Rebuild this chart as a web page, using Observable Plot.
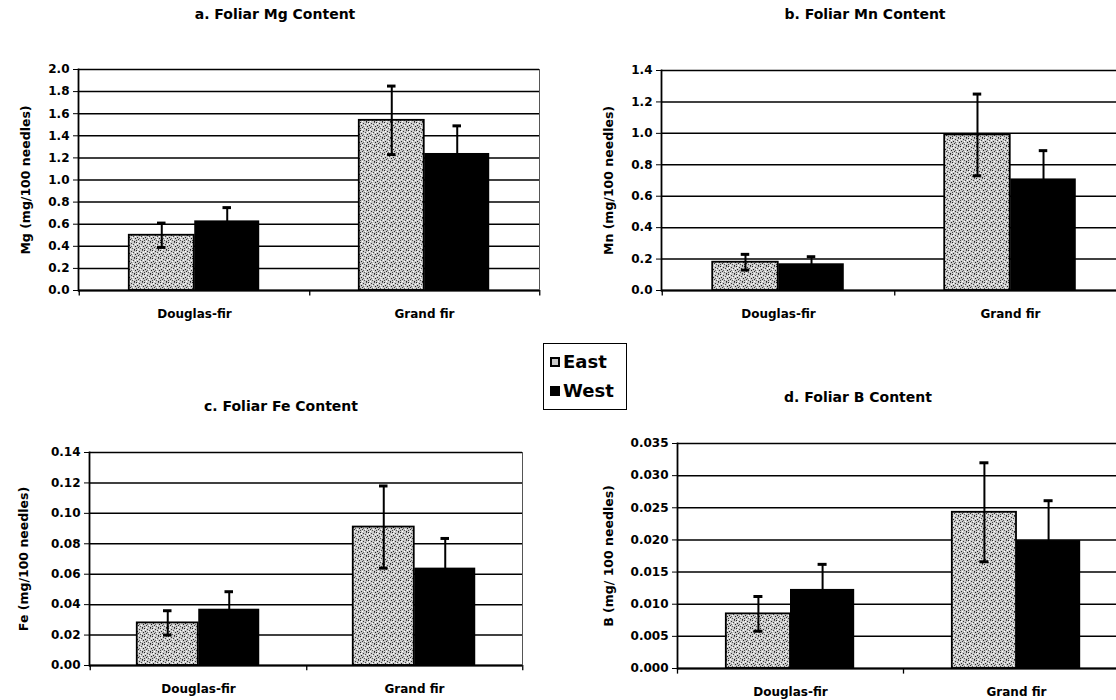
<!DOCTYPE html>
<html>
<head>
<meta charset="utf-8">
<script src="https://cdn.jsdelivr.net/npm/d3@7"></script>
<script src="https://cdn.jsdelivr.net/npm/@observablehq/plot@0.6"></script>
<style>
  html, body { margin: 0; padding: 0; background: #fff; overflow: hidden; }
  #root { position: relative; width: 1116px; height: 700px; overflow: hidden; font-family: "DejaVu Sans", sans-serif; font-weight: bold; color: #000; }
  .panel { position: absolute; }
  .title { position: absolute; font-size: 14px; white-space: nowrap; transform: translateX(-50%); }
  #legend { position: absolute; left: 543px; top: 343px; width: 82px; height: 65px; border: 1.5px solid #000; font-size: 18px; }
  #legend .row { position: absolute; left: 6px; display: flex; align-items: center; }
  #legend .sw { width: 10px; height: 10px; margin-right: 3px; box-sizing: border-box; }
</style>
</head>
<body>
<div id="root">
  <svg width="0" height="0" style="position:absolute">
    <defs>
      <pattern id="stipple" width="8" height="8" patternUnits="userSpaceOnUse">
        <rect width="8" height="8" fill="#cacaca"></rect>
        <rect x="0" y="0" width="1" height="1" fill="#222"></rect>
        <rect x="3" y="1" width="1" height="1" fill="#333"></rect>
        <rect x="6" y="0" width="1" height="1" fill="#555"></rect>
        <rect x="1" y="3" width="1" height="1" fill="#222"></rect>
        <rect x="5" y="2" width="1" height="1" fill="#444"></rect>
        <rect x="2" y="5" width="1" height="1" fill="#333"></rect>
        <rect x="7" y="4" width="1" height="1" fill="#222"></rect>
        <rect x="4" y="6" width="1" height="1" fill="#555"></rect>
        <rect x="0" y="6" width="1" height="1" fill="#444"></rect>
        <rect x="6" y="7" width="1" height="1" fill="#222"></rect>
        <rect x="3" y="4" width="1" height="1" fill="#666"></rect>
        <rect x="1" y="1" width="1" height="1" fill="#fff"></rect>
        <rect x="5" y="5" width="1" height="1" fill="#fff"></rect>
        <rect x="2" y="7" width="1" height="1" fill="#fff"></rect>
        <rect x="7" y="2" width="1" height="1" fill="#fff"></rect>
        <rect x="4" y="3" width="1" height="1" fill="#fff"></rect>
      </pattern>
    </defs>
  </svg>
  <div class="title" style="left:275px; top:6px;">a. Foliar Mg Content</div>
  <div class="title" style="left:865px; top:6px;">b. Foliar Mn Content</div>
  <div class="title" style="left:281px; top:398px;">c. Foliar Fe Content</div>
  <div class="title" style="left:858px; top:389px;">d. Foliar B Content</div>
  <div id="legend">
    <div class="row" style="top:7px;"><div class="sw" style="background:#cacaca; border:2px solid #000;"></div><span>East</span></div>
    <div class="row" style="top:36px;"><div class="sw" style="background:#000;"></div><span>West</span></div>
  </div>
</div>
<script>
// ---- data ----
const species = ["Douglas-fir", "Grand fir"];

const mgEast = [0.50, 1.54];
const mgEastErr = [0.11, 0.31];
const mgWest = [0.63, 1.24];
const mgWestErr = [0.12, 0.25];
const mgTicks = [0, 0.2, 0.4, 0.6, 0.8, 1.0, 1.2, 1.4, 1.6, 1.8, 2.0];

const mnEast = [0.18, 0.99];
const mnEastErr = [0.05, 0.26];
const mnWest = [0.17, 0.71];
const mnWestErr = [0.045, 0.18];
const mnTicks = [0, 0.2, 0.4, 0.6, 0.8, 1.0, 1.2, 1.4];

const feEast = [0.028, 0.091];
const feEastErr = [0.008, 0.027];
const feWest = [0.037, 0.064];
const feWestErr = [0.0115, 0.0195];
const feTicks = [0, 0.02, 0.04, 0.06, 0.08, 0.10, 0.12, 0.14];

const bEast = [0.0085, 0.0243];
const bEastErr = [0.0027, 0.0077];
const bWest = [0.0123, 0.0199];
const bWestErr = [0.0039, 0.0062];
const bTicks = [0, 0.005, 0.010, 0.015, 0.020, 0.025, 0.030, 0.035];

// ---- drawing ----
function panel(cfg) {
  const {left, top, width, height, ml, mr, mt, mb, ticks, digits, ylabel, labelOffset, east, eastErr, west, westErr} = cfg;
  const rows = species.map((s, i) => ({species: s, east: east[i], eastErr: eastErr[i], west: west[i], westErr: westErr[i]}));
  const bw = (width - ml - mr) / species.length;
  const barW = bw * 0.284;
  const ymax = ticks[ticks.length - 1];
  const capHalf = 4.5;
  const chart = Plot.plot({
    width, height,
    marginLeft: ml, marginRight: mr, marginTop: mt, marginBottom: mb,
    style: {fontFamily: "DejaVu Sans, sans-serif", fontWeight: "bold", fontSize: "12px", color: "#000", overflow: "visible"},
    x: {domain: species, padding: 0},
    y: {domain: [0, ymax]},
    marks: [
      Plot.ruleY(ticks, {stroke: "#000", strokeWidth: 1.5}),
      Plot.frame({anchor: "right", stroke: "#555", strokeWidth: 1, strokeDasharray: "2,1"}),
      Plot.barY(rows, {x: "species", y: "east", fill: "url(#stipple)", stroke: "#000", strokeWidth: 1.8, insetLeft: bw / 2 - barW, insetRight: bw / 2}),
      Plot.barY(rows, {x: "species", y: "west", fill: "#000", insetLeft: bw / 2, insetRight: bw / 2 - barW}),
      Plot.ruleX(rows, {x: "species", y1: d => d.east - d.eastErr, y2: d => d.east + d.eastErr, dx: -barW / 2, stroke: "#000", strokeWidth: 2}),
      Plot.ruleX(rows, {x: "species", y1: d => d.west - d.westErr, y2: d => d.west + d.westErr, dx: barW / 2, stroke: "#000", strokeWidth: 2}),
      Plot.tickY(rows, {x: "species", y: d => d.east + d.eastErr, insetLeft: bw / 2 - barW / 2 - capHalf, insetRight: bw / 2 + barW / 2 - capHalf, stroke: "#000", strokeWidth: 3}),
      Plot.tickY(rows, {x: "species", y: d => d.east - d.eastErr, insetLeft: bw / 2 - barW / 2 - capHalf, insetRight: bw / 2 + barW / 2 - capHalf, stroke: "#000", strokeWidth: 3}),
      Plot.tickY(rows, {x: "species", y: d => d.west + d.westErr, insetLeft: bw / 2 + barW / 2 - capHalf, insetRight: bw / 2 - barW / 2 - capHalf, stroke: "#000", strokeWidth: 3}),
      Plot.ruleY([0], {stroke: "#000", strokeWidth: 1.8}),
      Plot.frame({anchor: "left", stroke: "#000", strokeWidth: 1.8}),
      Plot.ruleX(species, {x: d => d, dx: bw / 2, y1: 0, y2: -ymax * 0.025, stroke: "#000", strokeWidth: 1.3}),
      Plot.ruleX(species.slice(0, 1), {x: d => d, dx: -bw / 2, y1: 0, y2: -ymax * 0.025, stroke: "#000", strokeWidth: 1.3}),
      Plot.axisY({ticks, tickFormat: d => d.toFixed(digits), tickSize: 5, tickPadding: 4, fontSize: 12, label: ylabel, labelAnchor: "center", labelOffset, labelArrow: "none"}),
      Plot.axisX({tickSize: 0, tickPadding: 19, fontSize: 12, label: null})
    ]
  });
  chart.classList.add("panel");
  chart.style.left = left + "px";
  chart.style.top = top + "px";
  chart.querySelectorAll('[aria-label="y-axis label"] text').forEach(t => t.setAttribute("font-size", "12.5"));
  document.getElementById("root").appendChild(chart);
}

panel({left: 0, top: 50, width: 560, height: 280, ml: 78, mr: 21, mt: 19, mb: 40,
  ticks: mgTicks, digits: 1, ylabel: "Mg (mg/100 needles)", labelOffset: 57,
  east: mgEast, eastErr: mgEastErr, west: mgWest, westErr: mgWestErr});
panel({left: 560, top: 50, width: 576, height: 280, ml: 101, mr: 10, mt: 20, mb: 40,
  ticks: mnTicks, digits: 1, ylabel: "Mn (mg/100 needles)", labelOffset: 57,
  east: mnEast, eastErr: mnEastErr, west: mnWest, westErr: mnWestErr});
panel({left: 0, top: 420, width: 545, height: 280, ml: 89, mr: 23, mt: 32, mb: 35,
  ticks: feTicks, digits: 2, ylabel: "Fe (mg/100 needles)", labelOffset: 70,
  east: feEast, eastErr: feEastErr, west: feWest, westErr: feWestErr});
panel({left: 560, top: 420, width: 580, height: 280, ml: 117, mr: 11, mt: 23, mb: 32,
  ticks: bTicks, digits: 3, ylabel: "B (mg/ 100 needles)", labelOffset: 73,
  east: bEast, eastErr: bEastErr, west: bWest, westErr: bWestErr});
</script>
</body>
</html>
